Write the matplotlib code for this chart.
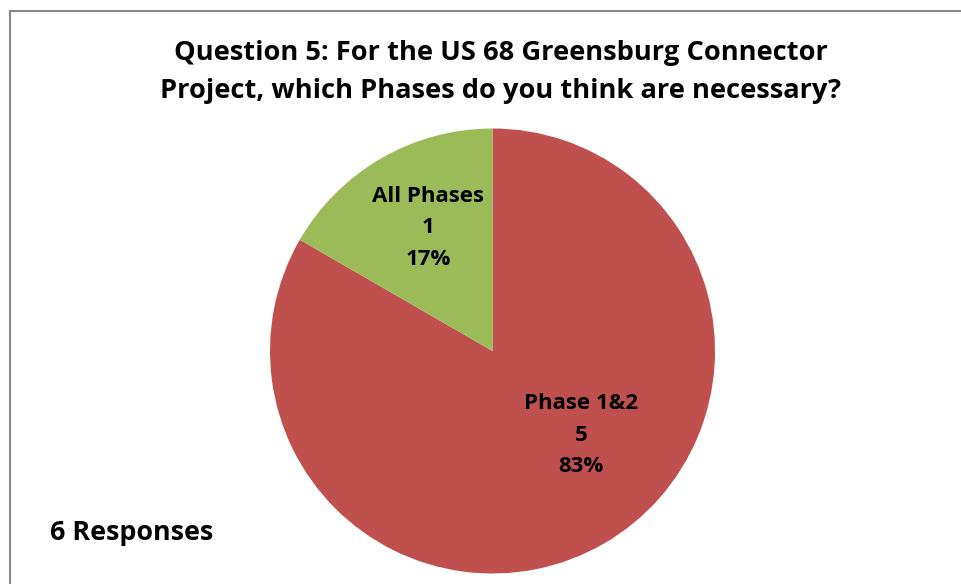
import matplotlib
matplotlib.use("Agg")
import matplotlib.pyplot as plt
from matplotlib.patches import Rectangle

categories = ["Phase 1&2", "All Phases"]
counts = [5, 1]
colors = ["#C0504D", "#9BBB59"]
title = "Question 5: For the US 68 Greensburg Connector\nProject, which Phases do you think are necessary?"
note = "6 Responses"

W, H = 962, 584
fig = plt.figure(figsize=(W / 100, H / 100), dpi=100)
fig.patch.set_facecolor("white")

# chart frame (left and top edges visible)
fig.patches.append(Rectangle((10 / W, -0.1), 1.2, (H - 11) / H + 0.1,
                             transform=fig.transFigure, fill=False,
                             edgecolor="#878787", linewidth=1.5))

font = ["Open Sans", "DejaVu Sans"]

# pie axes: centre (492.5, 351), radius 222.5 px
cx, cy, r = 492.5, 351, 222.5
ax = fig.add_axes([(cx - r) / W, (H - cy - r) / H, 2 * r / W, 2 * r / H])
ax.pie(counts, colors=colors, startangle=90, counterclock=False, radius=1,
       wedgeprops=dict(linewidth=0))
ax.set_xlim(-1, 1)
ax.set_ylim(-1, 1)
ax.set_aspect("equal")
ax.axis("off")

total = sum(counts)
label_pos = {"Phase 1&2": (0.398, -0.378), "All Phases": (-0.29, 0.553)}
for name, n in zip(categories, counts):
    x, y = label_pos[name]
    ax.text(x, y, f"{name}\n{n}\n{round(100 * n / total)}%", ha="center", va="center",
            fontsize=16, fontweight="bold", family=font, linespacing=1.68)

fig.text(501 / W, 1 - 72 / H, title, ha="center", va="center", fontsize=19.6,
         fontweight="bold", family=font, linespacing=1.65)
fig.text(50 / W, 1 - 533 / H, note, ha="left", va="center", fontsize=19.4,
         fontweight="bold", family=font)

fig.savefig("out.png", dpi=100, facecolor="white")
